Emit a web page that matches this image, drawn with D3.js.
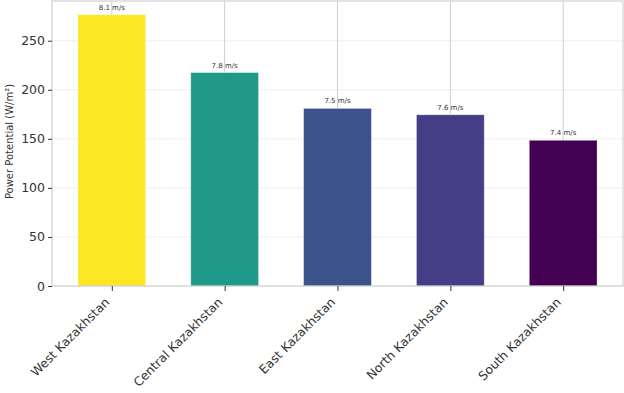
<!DOCTYPE html>
<html lang="en">
<head>
    <meta charset="UTF-8">
    <title>Kazakhstan Wind Power Potential</title>
    <style>
        body { margin: 0; background: #fff; }
        svg { font-family: 'DejaVu Sans', sans-serif; }
        .tick text { fill: #333; }
        .bar-label { font-size: 7px; fill: #333; text-anchor: middle; }
        .axis-label { font-size: 10px; fill: #333; }
    </style>
</head>
<body>
    <svg id="chart" width="624" height="393"></svg>

    <script src="https://d3js.org/d3.v7.min.js"></script>
    <script>
        // Data
        const regions = ["West Kazakhstan", "Central Kazakhstan", "East Kazakhstan", "North Kazakhstan", "South Kazakhstan"];
        const powerPotential = [276.5, 217.5, 181, 174.5, 148.5];
        const windSpeed = [8.1, 7.8, 7.5, 7.6, 7.4];
        const barColors = ["#fde725", "#1f998a", "#3b528b", "#433e85", "#440154"];
        const yTicks = [0, 50, 100, 150, 200, 250];

        const margin = { top: 1, right: 1, bottom: 107, left: 52 };
        const width = 624 - margin.left - margin.right;
        const height = 393 - margin.top - margin.bottom;
        const font = "'DejaVu Sans', sans-serif";

        const svg = d3.select("#chart")
            .append("g")
            .attr("transform", "translate(" + margin.left + "," + margin.top + ")");

        // matplotlib-like xlim: -0.53 .. 4.53
        const idx = d3.range(regions.length);
        const xScale = d3.scaleLinear().domain([-0.53, 4.53]).range([0, width]);
        const barW = xScale(0.6) - xScale(0);
        const yScale = d3.scaleLinear().domain([0, 290.5]).range([height, 0]);

        // horizontal grid
        svg.append("g")
            .selectAll("line")
            .data(yTicks)
            .join("line")
            .attr("x1", 0).attr("x2", width)
            .attr("y1", d => yScale(d)).attr("y2", d => yScale(d))
            .attr("stroke", "#ebebeb").attr("stroke-width", 0.8);

        // vertical grid at categories
        svg.append("g")
            .selectAll("line")
            .data(idx)
            .join("line")
            .attr("x1", d => xScale(d)).attr("x2", d => xScale(d))
            .attr("y1", 0).attr("y2", height)
            .attr("stroke", "#cfcfcf").attr("stroke-width", 1);

        // bars
        svg.selectAll(".bar")
            .data(idx)
            .join("rect")
            .attr("class", "bar")
            .attr("x", d => xScale(d) - barW / 2)
            .attr("width", barW)
            .attr("y", d => yScale(powerPotential[d]))
            .attr("height", d => height - yScale(powerPotential[d]))
            .attr("fill", d => barColors[d])
            .attr("stroke", "#ffffff")
            .attr("stroke-opacity", 0.35)
            .attr("stroke-width", 0.8);

        // wind speed labels
        svg.selectAll(".bar-label")
            .data(idx)
            .join("text")
            .attr("class", "bar-label")
            .attr("font-family", font)
            .attr("x", d => xScale(d))
            .attr("y", d => yScale(powerPotential[d]) - 5)
            .text(d => windSpeed[d].toFixed(1) + " m/s");

        // frame
        svg.append("rect")
            .attr("x", 0).attr("y", 0)
            .attr("width", width).attr("height", height)
            .attr("fill", "none")
            .attr("stroke", "#d0d0d0").attr("stroke-width", 1.2);

        // axes
        const yAxis = svg.append("g")
            .call(d3.axisLeft(yScale).tickValues(yTicks).tickSize(4).tickPadding(3));
        yAxis.attr("font-family", font).attr("font-size", 12.5);
        yAxis.select(".domain").remove();
        yAxis.selectAll(".tick line").attr("stroke", "#333");

        const xAxis = svg.append("g")
            .attr("transform", "translate(0," + height + ")")
            .call(d3.axisBottom(xScale).tickValues(idx).tickFormat(d => regions[d]).tickSize(5).tickPadding(3));
        xAxis.attr("font-family", font).attr("font-size", 12.3);
        xAxis.select(".domain").remove();
        xAxis.selectAll(".tick line").attr("stroke", "#333");
        xAxis.selectAll(".tick text")
            .attr("text-anchor", "end")
            .attr("x", 0).attr("y", 0)
            .attr("dx", 0).attr("dy", 0)
            .attr("transform", "translate(-2,17) rotate(-45)");

        // y-axis label
        svg.append("text")
            .attr("class", "axis-label")
            .attr("font-family", font)
            .attr("text-anchor", "middle")
            .attr("transform", "rotate(-90)")
            .attr("x", -height / 2 + 2)
            .attr("y", -margin.left + 13)
            .text("Power Potential (W/m²)");
    </script>
</body>
</html>
